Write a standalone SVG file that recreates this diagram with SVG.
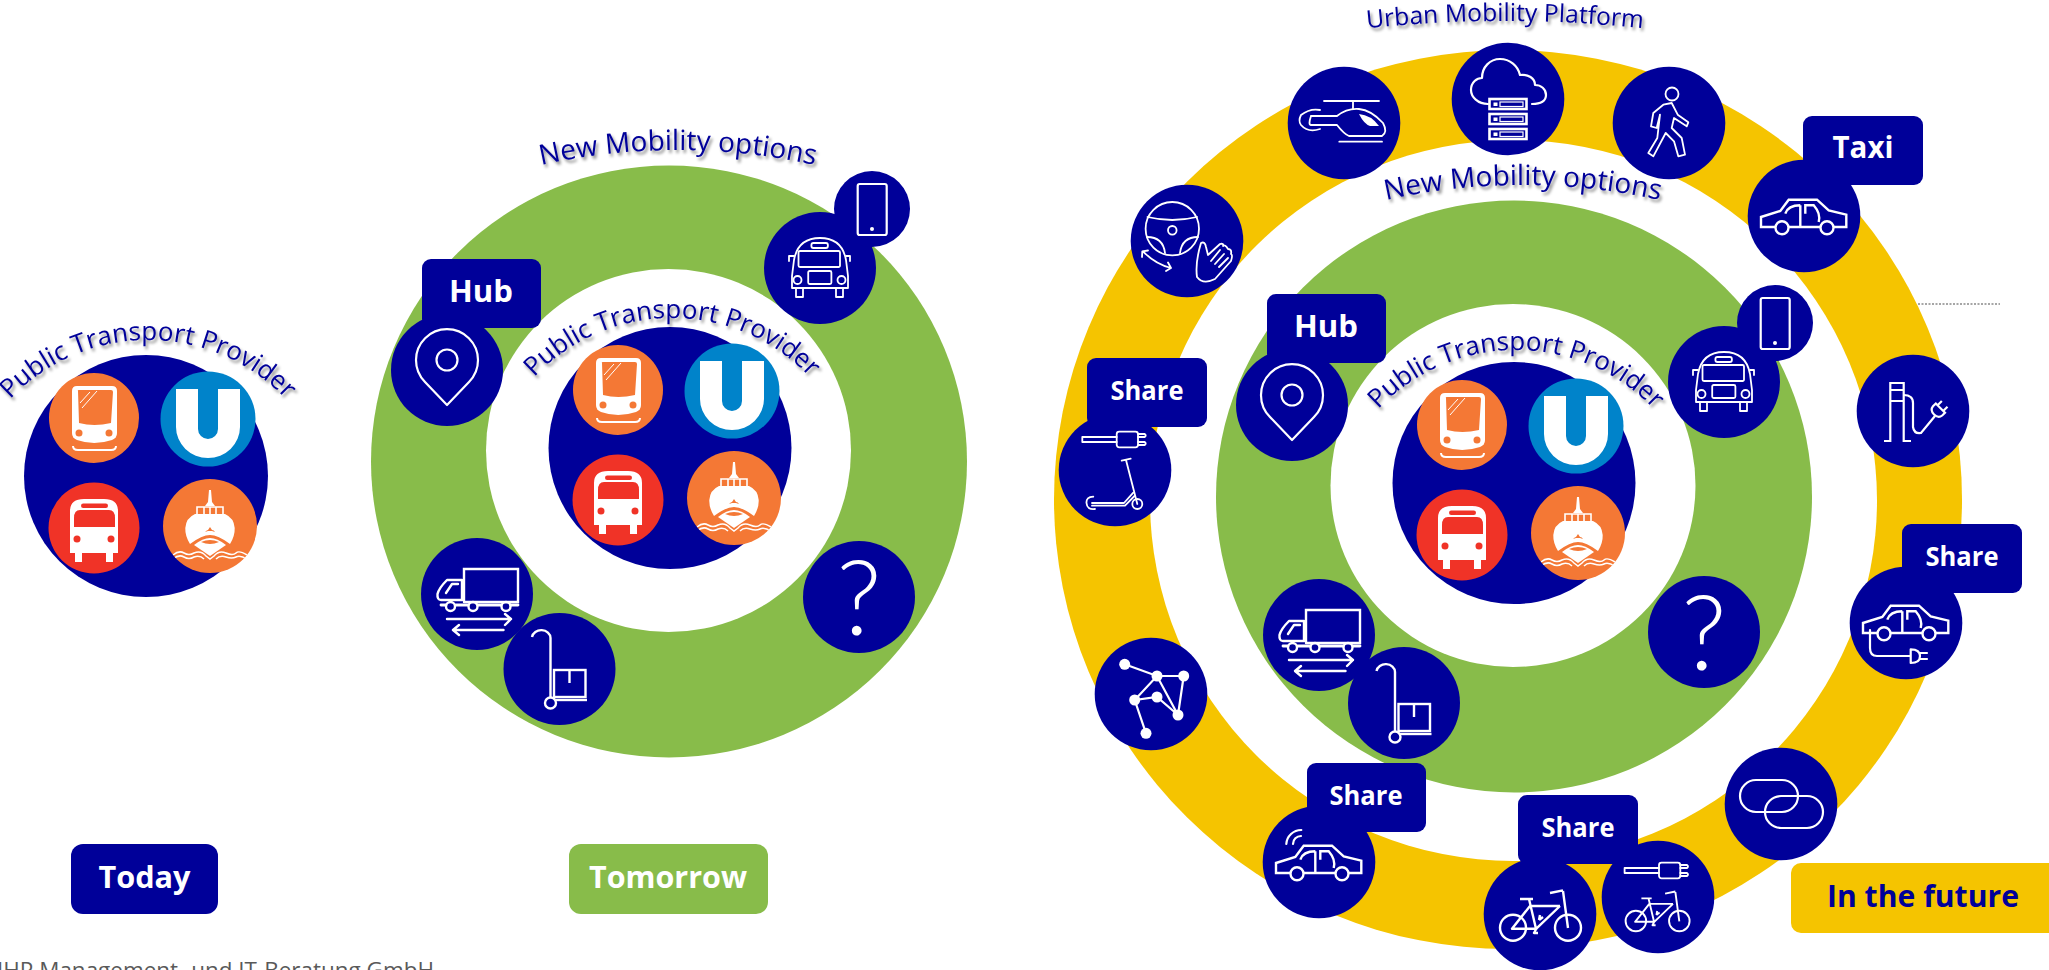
<svg xmlns="http://www.w3.org/2000/svg" width="2049" height="970" viewBox="0 0 2049 970">
<style>
.navy{fill:#000099}
.ic{fill:none;stroke:#fff;stroke-width:2.2;stroke-linejoin:round;stroke-linecap:round}
.ict{fill:none;stroke:#fff;stroke-width:2.6;stroke-linejoin:miter}
.wf{fill:#fff}
.arc{font-family:"Open Sans","Noto Sans",sans-serif;fill:#000099;filter:url(#sh);text-anchor:middle}
.lab{font-family:"Open Sans","Noto Sans",sans-serif;font-weight:700;fill:#fff;text-anchor:middle}
.q{font-family:Lato,sans-serif;font-weight:300;font-size:104px;fill:#fff;text-anchor:middle}
</style>
<defs>
<filter id="sh" x="-10%" y="-40%" width="120%" height="200%"><feDropShadow dx="2" dy="3" stdDeviation="1.6" flood-color="#000" flood-opacity="0.45"/></filter>
<path id="arcPT" d="M-159.900,87.300 A190,190 0 0 1 159.900,87.300"/>
<path id="arcNM" d="M-184.700,27.900 A625,625 0 0 1 184.700,27.900"/>
<path id="arcUM" d="M-194.300,14.600 A1300,1300 0 0 1 194.300,14.600"/>

<g id="tram">
<circle r="45" fill="#F47835"/>
<path class="wf" d="M-22,-27 Q-22,-32 -17,-32 H18 Q23,-32 23,-27 L23,15 Q23,20 18,22 Q0,28 -17,22 Q-22,20 -22,15 Z"/>
<path fill="#F47835" d="M-16,-27 Q-17,-28 -15,-28 H17 Q19,-28 19,-26 L17,5 Q0,9 -15,5 Z"/>
<path fill="none" stroke="#fff" stroke-width="1" d="M-14,-15 L-4,-26 M-12,-10 L3,-27"/>
<circle cx="-15" cy="15" r="3.500" fill="#F47835"/><circle cx="15" cy="15" r="3.500" fill="#F47835"/>
<path fill="none" stroke="#fff" stroke-width="2" d="M-21,28 Q-21,32 -16,32 H17 Q22,32 22,28"/>
</g>
<g id="ubahn">
<circle r="47.500" fill="#0083CA"/>
<path class="wf" d="M-32,-30 H-10 V10 A10,10 0 0 0 10,10 V-30 H32 V8 A32,31 0 0 1 -32,8 Z"/>
</g>
<g id="bus">
<circle r="45.500" fill="#F03327"/>
<path class="wf" d="M-24,-17 Q-24,-29 -10,-29 H10 Q24,-29 24,-17 V25 H19 V34 H12 V25 H-12 V34 H-19 V25 H-24 Z"/>
<path fill="#F03327" d="M-20,-10 Q-20,-18 -14,-18 H15 Q21,-18 21,-10 V-1 H-20 Z"/>
<rect x="-13" y="-24.500" width="27" height="4.500" rx="2.200" fill="#F03327"/>
<circle cx="-17" cy="11" r="3.500" fill="#F03327"/><circle cx="17" cy="11" r="3.500" fill="#F03327"/>
</g>
<g id="ferry">
<clipPath id="ferryclip"><circle r="47"/></clipPath>
<circle r="47" fill="#F47835"/>
<path class="wf" d="M-1,-36 H1 L2,-24 L5,-20 H-5 L-2,-24 Z"/>
<path fill="none" stroke="#fff" stroke-width="1.600" d="M-13,-12 V-19 H13 V-12 M-6,-19 V-12 M0,-19 V-12 M6,-19 V-12"/>
<path class="wf" d="M-15,-12 H15 Q24,-8 24.700,2 Q25,10 20,18 Q8,9 0,9 Q-8,9 -20,18 Q-25,10 -24.700,2 Q-24,-8 -15,-12 Z"/>
<path fill="#F47835" d="M-5,6 Q-3,4 -2,4 L0,1 L2,4 Q4,4 5,6 L2,5 H-2 Z"/>
<path class="wf" d="M-16,19 Q-7,12 0,12 Q7,12 16,19 L0,30 Z"/>
<path fill="#F47835" d="M-9,16 Q0,12 9,16 Q0,20 -9,16 Z"/>
<g clip-path="url(#ferryclip)" fill="none" stroke="#fff" stroke-width="1.500">
<path d="M-37,29 Q-31,24 -26,27 T-16,27 Q-9,24 -4,30 L0,33 L4,30 Q9,24 16,27 T26,27 T37,29"/>
<path d="M-37,33 Q-31,28 -26,31 T-16,31 Q-10,29 -6,33 M6,33 Q10,29 16,31 T26,31 T37,33"/>
</g>
</g>
<g id="pt"><use href="#tram" x="-52" y="-58"/><use href="#ubahn" x="62" y="-57"/><use href="#bus" x="-52" y="52"/><use href="#ferry" x="64" y="50"/></g>

<g id="i-pin"><path class="ic" d="M0,35 L-22,12 A31,31 0 1 1 22,12 Z"/><circle class="ic" cy="-10" r="10.500"/></g>
<g id="i-phone"><rect class="ic" x="-14.300" y="-25" width="29" height="51" rx="2"/><circle class="wf" cy="20" r="2"/></g>
<g id="i-sbus" class="ic" style="stroke-width:1.800">
<path d="M-28,20 V8 L-26,-8 Q-22,-30 0,-30 Q22,-30 26,-8 L28,8 V20 Z"/>
<rect x="-21.500" y="-17" width="41.500" height="16" rx="1.500"/>
<rect x="-8.600" y="-25" width="16.500" height="5" rx="2"/>
<rect x="-11.800" y="3" width="23.200" height="13" rx="1.500"/>
<circle cx="-22.500" cy="12" r="4"/><circle cx="21.500" cy="12" r="4"/>
<path d="M-24,20 V29 H-17 V20 M16,20 V29 H23 V20 M-26,-12 H-31 V-7 M26,-12 H30 V-7"/>
</g>
<g id="i-truck" class="ic" style="stroke-width:2.400">
<path d="M-13,8 V-25 H41 V8 H-13" style="stroke-linejoin:miter"/>
<path d="M-15,6 H-36 Q-40,6 -39.500,0 Q-38,-6 -30,-14 H-15 V6 M-31,-1 L-25,-10 H-19"/>
<path d="M-36,11 H-31 M-21,11 H-9 M1,11 H24 M34,11 H41" stroke-width="2.800"/>
<circle cx="-26.500" cy="12.500" r="4.500"/><circle cx="-4" cy="12.500" r="4.500"/><circle cx="29" cy="12.500" r="4.500"/>
<path d="M-30,25 H34 M28,20 L34,25 L28,31 M26.500,36 H-23 M-18,31 L-24,36 L-18,41"/>
</g>
<g id="i-trolley" class="ic" style="stroke-width:2.400;stroke-linejoin:miter;stroke-linecap:butt">
<path d="M-27.500,-32 A9.300,8 0 0 1 -9,-31 V28"/>
<circle cx="-9" cy="34" r="5.500"/>
<path d="M-4,31 H27.500"/>
<rect x="-5.500" y="1" width="31.500" height="27"/>
<path d="M10,1 V14"/>
</g>
<g id="i-heli" class="ic" style="stroke-width:1.800">
<path d="M-20,-22 H35 M9,-22 V-14 M-4.700,18.700 H38"/>
<path d="M-33,-7 H-7 Q3,-15 15,-14 Q27,-13 39,0 Q44,9 38,13 H5 Q0,11 -7,2 H-33 Q-36,2 -33,-7 M-24,-13 Q-34,-15 -43,-8 Q-46,-2 -43,2 Q-36,10 -24,6"/>
<path class="wf" style="stroke:none" d="M15,-9 Q27,-8 35,3 H26 Q20,1 15,-9 Z"/>
</g>
<g id="i-cloud">
<path class="ic" d="M-20,5 C-30,5 -37,-2 -37,-9 C-37,-17 -31,-21 -26,-21 C-26,-32 -18,-40 -8,-40 C2,-40 10,-33 12,-24 C20,-25 27,-21 27,-14 C33,-14 38,-10 38,-4 C38,2 33,5 24,5"/>
<g id="srv1"><rect class="ict" x="-18.500" y="0" width="37" height="10"/><rect class="wf" x="-14.500" y="3.500" width="4" height="3.500"/><rect x="-8" y="3" width="23" height="4.500" fill="none" stroke="#fff" stroke-width="1.200"/></g>
<use href="#srv1" y="15"/><use href="#srv1" y="30"/>
</g>
<g id="i-walk" class="ic" style="stroke-width:1.800">
<circle cx="3" cy="-29" r="6.500"/>
<path d="M2.700,-20 L8.700,-8.300 L19.300,-.7 L17.700,3.300 L5,-5 L2.700,5 L12.700,15 L16,31.700 L9.300,33.300 L5,18.300 L-3.300,10 L-15.700,33.300 L-20.700,30 L-11.700,15 L-9,-8.300 L-12.300,5 L-18,3.300 L-15.700,-10 L-5.700,-18.300 Z"/>
</g>
<g id="i-car" class="ic" style="stroke-width:2.400;stroke-linecap:butt;stroke-linejoin:miter">
<path d="M-28.500,11 H-43 V1 L-23.700,-5 L-15.300,-16.300 H13 L24.700,-5.700 L42.300,-1.300 V11 H29.500 M16.500,11 H-15.500"/>
<circle cx="-22" cy="11.700" r="6.500"/><circle cx="23" cy="11.700" r="6.500"/>
<path d="M-3.700,-10.700 V11 M-18.700,-2.300 Q-16,-10.700 -3.700,-10.700 M1.300,-2.300 V-10.700 H9.700 Q17,-2.300 14.700,6"/>
</g>
<g id="i-steer" class="ic" style="stroke-width:1.800">
<circle cx="-14.700" cy="-12.300" r="26.700"/>
<path d="M-39.500,-24 Q-14.700,-18 10,-24"/>
<circle cx="-14.700" cy="-10.700" r="4.300"/>
<path d="M-40,-4 Q-24,-4 -22,12 M11,-4 Q-5,-4 -7,12"/>
<path d="M-44,10.300 Q-32,23 -16,27 M-45,16 L-44.700,10.300 L-39,9.500 M-21,30 L-16,27 L-19,21.500"/>
<path d="M10,36 Q8,22 14,2 Q18,0 19,6 L21,14 L33,3 Q37,2 36,5 Q38,3 41,8 Q45,8 44,13 Q46,14 44,20 L28,38 Q16,44 10,36 Z M24,20 L33,9 M28,23 L37,13 M32,26 L41,17"/>
</g>
<g id="plug" class="ic" style="stroke-width:1.800">
<path d="M0,-2.500 H-34.400 V2.500 H0"/>
<rect x="0" y="-7.800" width="21.300" height="15.600" rx="2.500"/>
<path d="M21.300,-5.500 H28 Q30,-4 28,-2.500 H21.300 M21.300,2.500 H28 Q30,4 28,5.500 H21.300"/>
</g>
<g id="i-scooter"><use href="#plug" x="1.700" y="-30.500"/>
<g class="ic" style="stroke-width:1.800">
<path d="M6.700,-9.300 L15.700,-11.300 M11,-10 L22.300,34"/>
<circle cx="22.300" cy="34" r="5"/>
<path d="M-21.700,26.700 Q-29,27 -28.500,33 Q-28,40 -20,39 M-23,33 H9 L18.300,22.700 M-23,35.700 H10 L19.500,26"/>
</g></g>
<g id="i-net">
<g fill="none" stroke="#fff" stroke-width="2.200">
<path d="M-26.300,-29.700 L6,-18 H32.700 L27,21 L6,-18 L-16.300,6 L6,3 L27,21 M-16.300,6 L-5,39.300"/></g>
<g class="wf"><circle cx="-26.300" cy="-29.700" r="5.500"/><circle cx="6" cy="-18" r="5.500"/><circle cx="32.700" cy="-18" r="5.500"/><circle cx="-16.300" cy="6" r="5.500"/><circle cx="6" cy="3" r="5.500"/><circle cx="27" cy="21" r="5.500"/><circle cx="-5" cy="39.300" r="5.500"/></g>
</g>
<g id="i-charge" class="ic" style="stroke-linecap:butt;stroke-linejoin:miter">
<path d="M-29,30 H-22.700 V-28 H-9.300 V30 H-2 M-22.700,-21 H-9.300 M-22.700,-10 H-9.300"/>
<path d="M-9.300,-16 Q0,-16 0,-8 V16 Q1,23 8,22 L22,5"/>
<g transform="translate(26,-1.500) rotate(-45)"><path d="M2,-6.500 H-2 Q-7,-6 -7,0 Q-7,6 -2,6.500 H2 Z M2,-4 H8 M2,4 H8"/></g>
</g>
<g id="i-link" class="ic"><rect x="-41" y="-24" width="58" height="32" rx="16"/><rect x="-16" y="-8" width="58" height="32" rx="16"/></g>
<g id="i-bike" class="ic" style="stroke-width:2.400;stroke-linecap:butt">
<circle cx="-27" cy="13.700" r="13"/><circle cx="28" cy="13.700" r="13"/>
<path d="M-20,-15 H-7 M-11,-15 L-3.700,16 M10,-21 L23,-23.700 M23,-23 L28,14 M-10,-8 H20 M20,-8 L-3.700,14.700 H-28 L-10,-8 M-3.700,14.700 L-6,19 H-2"/>
<path d="M-1,6 L0,1 M-1,6 L3,3"/>
</g>
<g id="i-ebike"><use href="#plug" x="1" y="-26.500"/><use href="#i-bike" transform="translate(-.8,13.200) scale(.79)"/></g>
</defs>

<rect width="2049" height="970" fill="#fff"/>

<g id="today-diagram">
<ellipse cx="146" cy="476" rx="122" ry="121" class="navy"/>
<use id="today-pt" href="#pt" x="146" y="476"/>
<text class="arc" font-size="26" transform="translate(148,340)"><textPath href="#arcPT" startOffset="50%">Public Transport Provider</textPath></text>
</g>

<g id="tomorrow-rings">
<ellipse cx="669" cy="461.500" rx="298" ry="296" fill="#88BC4A"/>
<ellipse cx="668.500" cy="450.500" rx="182.500" ry="181.500" fill="#fff"/>
<ellipse cx="670" cy="448" rx="121.500" ry="121" class="navy"/>
</g>
<use id="tomorrow-pt" href="#pt" x="670" y="448"/>
<text id="tomorrow-pt-label" class="arc" font-size="26" transform="translate(672,318)"><textPath href="#arcPT" startOffset="50%">Public Transport Provider</textPath></text>
<text id="tomorrow-nm-label" class="arc" font-size="28" transform="translate(678,150)"><textPath href="#arcNM" startOffset="50%">New Mobility options</textPath></text>

<g id="m-hub"><circle cx="447" cy="370" r="56" class="navy"/><rect x="422" y="259" width="119" height="69" rx="9" class="navy"/><use href="#i-pin" x="447" y="370"/><text class="lab" x="481" y="302" font-size="30" textLength="64" lengthAdjust="spacingAndGlyphs">Hub</text></g>
<g id="m-sbus"><circle cx="820" cy="268" r="56" class="navy"/><use href="#i-sbus" x="820" y="268"/></g>
<g id="m-phone"><circle cx="872" cy="209" r="38" class="navy"/><use href="#i-phone" x="872" y="209"/></g>
<g id="m-truck"><circle cx="477" cy="594" r="56" class="navy"/><use href="#i-truck" x="477" y="594"/></g>
<g id="m-trolley"><circle cx="559.500" cy="669" r="56" class="navy"/><use href="#i-trolley" x="559.500" y="669"/></g>
<g id="m-q"><circle cx="859" cy="597" r="56" class="navy"/><text class="q" x="859" y="635">?</text></g>

<g id="future-rings">
<ellipse cx="1508" cy="499.500" rx="454" ry="449.500" fill="#F5C400"/>
<ellipse cx="1513.500" cy="500.500" rx="363.500" ry="360.500" fill="#fff"/>
<ellipse cx="1514" cy="496.500" rx="298" ry="296" fill="#88BC4A"/>
<ellipse cx="1513" cy="485.500" rx="182.500" ry="181.500" fill="#fff"/>
<ellipse cx="1514" cy="483" rx="121.500" ry="121" class="navy"/>
</g>
<use id="future-pt" href="#pt" x="1514" y="483"/>
<text id="future-pt-label" class="arc" font-size="26" transform="translate(1516,350)"><textPath href="#arcPT" startOffset="50%">Public Transport Provider</textPath></text>
<text id="future-nm-label" class="arc" font-size="28" transform="translate(1523,185)"><textPath href="#arcNM" startOffset="50%">New Mobility options</textPath></text>
<text id="future-um-label" class="arc" font-size="24.700" transform="translate(1505,21)"><textPath href="#arcUM" startOffset="50%">Urban Mobility Platform</textPath></text>

<g id="f-hub"><circle cx="1292" cy="405" r="56" class="navy"/><rect x="1267" y="294" width="119" height="69" rx="9" class="navy"/><use href="#i-pin" x="1292" y="405"/><text class="lab" x="1326" y="337" font-size="30" textLength="64" lengthAdjust="spacingAndGlyphs">Hub</text></g>
<g id="f-sbus"><circle cx="1724" cy="382" r="56" class="navy"/><use href="#i-sbus" x="1724" y="382"/></g>
<g id="f-phone"><circle cx="1775" cy="323" r="38" class="navy"/><use href="#i-phone" x="1775" y="323"/></g>
<g id="f-truck"><circle cx="1319" cy="635" r="56" class="navy"/><use href="#i-truck" x="1319" y="635"/></g>
<g id="f-trolley"><circle cx="1404" cy="703" r="56" class="navy"/><use href="#i-trolley" x="1404" y="703"/></g>
<g id="f-q"><circle cx="1704" cy="632" r="56" class="navy"/><text class="q" x="1704" y="670">?</text></g>

<g id="o-heli"><circle cx="1344" cy="123" r="56.300" class="navy"/><use href="#i-heli" x="1344" y="123"/></g>
<g id="o-cloud"><circle cx="1508" cy="99" r="56.300" class="navy"/><use href="#i-cloud" x="1508" y="99"/></g>
<g id="o-walk"><circle cx="1669" cy="123" r="56.300" class="navy"/><use href="#i-walk" x="1669" y="123"/></g>
<g id="o-taxi"><circle cx="1804" cy="216" r="56.300" class="navy"/><rect x="1803" y="116" width="120" height="69" rx="9" class="navy"/><use href="#i-car" x="1804" y="216"/><text class="lab" x="1863" y="158" font-size="30" textLength="61" lengthAdjust="spacingAndGlyphs">Taxi</text></g>
<g id="o-steer"><circle cx="1187" cy="241" r="56.300" class="navy"/><use href="#i-steer" x="1187" y="241"/></g>
<g id="o-scooter"><circle cx="1115" cy="470" r="56.300" class="navy"/><rect x="1087" y="358" width="120" height="69" rx="9" class="navy"/><use href="#i-scooter" x="1115" y="470"/><text class="lab" x="1147" y="400" font-size="26" textLength="73" lengthAdjust="spacingAndGlyphs">Share</text></g>
<g id="o-net"><circle cx="1151" cy="694" r="56.300" class="navy"/><use href="#i-net" x="1151" y="694"/></g>
<g id="o-charge"><circle cx="1913" cy="411" r="56.300" class="navy"/><use href="#i-charge" x="1913" y="411"/></g>
<g id="o-ecar"><circle cx="1906" cy="623" r="56.300" class="navy"/><rect x="1902" y="524" width="120" height="69" rx="9" class="navy"/><use href="#i-car" x="1906" y="622"/>
<path class="ic" d="M-36,7 V25 Q-36,33 -29,33 H4 M4.700,26.300 V40 Q14,40 14,33 Q14,26.300 4.700,26.300 Z M14,30 H21 M14,36 H21" transform="translate(1906,623)"/>
<text class="lab" x="1962" y="566" font-size="26" textLength="73" lengthAdjust="spacingAndGlyphs">Share</text></g>
<g id="o-link"><circle cx="1781" cy="804" r="56.300" class="navy"/><use href="#i-link" x="1781" y="804"/></g>
<g id="o-wificar"><circle cx="1319" cy="862" r="56.300" class="navy"/><rect x="1307" y="763" width="119" height="69" rx="9" class="navy"/><use href="#i-car" x="1319" y="862"/>
<path class="ic" d="M-32.700,-18 A15,15 0 0 1 -17.700,-32 M-26,-18 A8,8 0 0 1 -18,-26" transform="translate(1319,862)"/>
<text class="lab" x="1366" y="805" font-size="26" textLength="73" lengthAdjust="spacingAndGlyphs">Share</text></g>
<g id="o-ebike"><circle cx="1658" cy="897" r="56.300" class="navy"/><use href="#i-ebike" x="1658" y="897"/></g>
<g id="o-bike"><rect x="1518" y="795" width="120" height="69" rx="9" class="navy"/><circle cx="1540" cy="914" r="56.300" class="navy"/><use href="#i-bike" x="1540" y="914"/><text class="lab" x="1578" y="837" font-size="26" textLength="73" lengthAdjust="spacingAndGlyphs">Share</text></g>

<g id="today-badge"><rect x="71" y="844" width="147" height="70" rx="12" class="navy"/><text class="lab" x="144.500" y="888" font-size="31" textLength="92" lengthAdjust="spacingAndGlyphs">Today</text></g>
<g id="tomorrow-badge"><rect x="569" y="844" width="199" height="70" rx="12" fill="#88BC4A"/><text class="lab" x="668" y="888" font-size="31" textLength="158" lengthAdjust="spacingAndGlyphs">Tomorrow</text></g>
<g id="future-badge"><rect x="1791" y="863" width="280" height="70" rx="10" fill="#F5C400"/><text class="lab" style="fill:#000099" x="1923" y="907" font-size="31" textLength="192" lengthAdjust="spacingAndGlyphs">In the future</text></g>

<g id="connectors"><path d="M1918,304 H2000" stroke="#a6a6a6" stroke-width="2" stroke-dasharray="2 1.500" fill="none"/></g>
<text id="footer" x="-3" y="978" font-family="'Open Sans',sans-serif" font-size="22" textLength="437" lengthAdjust="spacingAndGlyphs" fill="#595959">IHP Management- und IT-Beratung GmbH</text>
</svg>
